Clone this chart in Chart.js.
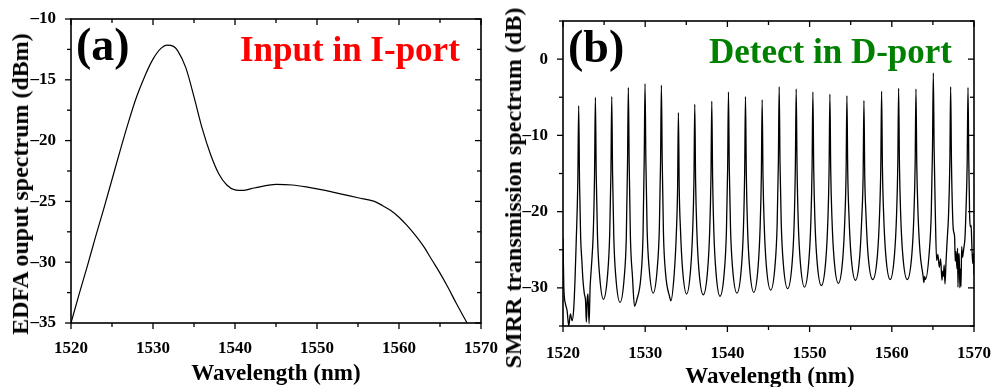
<!DOCTYPE html>
<html><head><meta charset="utf-8">
<script src="https://cdn.jsdelivr.net/npm/chart.js@4/dist/chart.umd.min.js"></script>
<style>
html,body{margin:0;padding:0;background:#fff;}
#wrap{position:relative;width:993px;height:387px;overflow:hidden;font-family:"Liberation Serif","Times New Roman",serif;font-weight:bold;color:#000;}
canvas{position:absolute;top:0;}
.t{position:absolute;white-space:nowrap;line-height:1;}
.r{position:absolute;white-space:nowrap;line-height:1;transform:translate(-50%,-50%) rotate(-90deg);}
.c{position:absolute;white-space:nowrap;line-height:1;transform:translateX(-50%);}
</style></head>
<body><div id="wrap">
<canvas id="ca" width="510" height="387" style="left:0"></canvas>
<canvas id="cb" width="503" height="387" style="left:500px"></canvas>
<div class="t" style="left:76px;top:21.5px;font-size:46px;">(a)</div>
<div class="t" style="left:240px;top:31.7px;font-size:35px;color:#ff0000;">Input in I-port</div>
<div class="t" style="left:568px;top:23.5px;font-size:46px;">(b)</div>
<div class="t" style="left:709px;top:34.2px;font-size:35px;color:#008000;">Detect in D-port</div>
<div class="c" style="left:276px;top:360.7px;font-size:23px;">Wavelength (nm)</div>
<div class="c" style="left:770px;top:364.2px;font-size:23px;">Wavelength (nm)</div>
<div class="r" style="left:20px;top:184px;font-size:24px;">EDFA ouput spectrum (dBm)</div>
<div class="r" style="left:513px;top:187.5px;font-size:24px;">SMRR transmission spectrum (dB)</div>
</div>
<script>
// ---- tick labels ----
const xTickLabels = [1520, 1530, 1540, 1550, 1560, 1570];
const xMinorTicks = [1525, 1535, 1545, 1555, 1565];
const aTickLabels = [-35, -30, -25, -20, -15, -10];
const aMinorTicks = [-32.5, -27.5, -22.5, -17.5, -12.5];
const bTickLabels = [-30, -20, -10, 0];
const bMinorTicks = [-35, -25, -15, -5, 5];

// ---- panel (a): EDFA output spectrum ----
const aWave = [1520, 1521, 1522, 1523, 1524, 1525, 1526, 1527, 1528, 1529, 1530, 1531, 1531.7, 1532.5, 1533, 1534, 1535, 1536, 1537, 1538, 1539, 1540, 1541, 1542, 1543, 1545, 1547, 1549, 1551, 1553, 1555, 1557, 1558, 1559, 1560, 1561, 1562, 1563, 1564, 1565, 1566, 1567, 1568.3];
const aPower = [-35, -32.6, -30.3, -27.9, -25.6, -23.2, -20.8, -18.5, -16.4, -14.7, -13.3, -12.4, -12.15, -12.25, -12.6, -14.0, -16.4, -19.0, -21.1, -22.7, -23.65, -24.05, -24.1, -23.95, -23.8, -23.6, -23.65, -23.85, -24.1, -24.4, -24.7, -25.0, -25.35, -25.75, -26.3, -27.0, -27.8, -28.7, -29.8, -30.9, -32.1, -33.4, -35];

// ---- panel (b): SMRR transmission spectrum ----
const bWave = [
1520.0,1520.1,1520.3,1520.5,1520.7,1520.9,1521.1,1521.3,1521.46,1521.6,1521.8,1521.91,1522.01,1522.15,1522.3,1522.43,1522.6,1522.75,1522.84,1522.95,1523.04,1523.17,1523.3,1523.44,1523.69,1523.84,1523.94,1524.04,1524.19,1524.44,1524.92,
1525.43,1525.68,1525.83,1525.93,1526.03,1526.18,1526.43,1526.94,
1527.45,1527.70,1527.85,1527.95,1528.05,1528.20,1528.45,1528.7,1528.97,
1529.48,1529.73,1529.88,1529.98,1530.08,1530.23,1530.48,1530.97,
1531.47,1531.72,1531.87,1531.97,1532.07,1532.22,1532.47,1533.0,1533.12,
1533.54,1533.79,1533.94,1534.04,1534.14,1534.29,1534.54,1535.04,
1535.53,1535.78,1535.93,1536.03,1536.13,1536.28,1536.53,1537.07,
1537.60,1537.85,1538.00,1538.10,1538.20,1538.35,1538.60,1539.1,
1539.63,1539.88,1540.03,1540.13,1540.23,1540.38,1540.63,1541.16,
1541.70,1541.95,1542.10,1542.20,1542.30,1542.45,1542.70,1543.21,
1543.73,1543.98,1544.13,1544.23,1544.33,1544.48,1544.73,1545.27,
1545.80,1546.05,1546.20,1546.30,1546.40,1546.55,1546.80,1547.33,
1547.87,1548.12,1548.27,1548.37,1548.47,1548.62,1548.87,1549.38,
1549.90,1550.15,1550.30,1550.40,1550.50,1550.65,1550.90,1551.43,
1551.97,1552.22,1552.37,1552.47,1552.57,1552.72,1552.97,1553.5,
1554.04,1554.29,1554.44,1554.54,1554.64,1554.79,1555.04,1555.58,
1556.11,1556.36,1556.51,1556.61,1556.71,1556.86,1557.11,1557.68,
1558.26,1558.51,1558.66,1558.76,1558.86,1559.01,1559.26,1559.8,
1560.33,1560.58,1560.73,1560.83,1560.93,1561.08,1561.33,1561.88,
1562.44,1562.69,1562.84,1562.94,1563.04,1563.19,1563.44,1563.8,1563.9,1564.0,1564.1,
1564.55,1564.8,1564.95,1565.05,1565.15,1565.3,1565.45,1565.6,1565.78,1565.94,1566.1,1566.2,1566.27,1566.37,1566.47,1566.6,1566.75,1566.9,
1567.06,1567.16,1567.26,1567.4,1567.5,1567.64,1567.72,1567.8,1567.93,1568.0,1568.05,1568.12,1568.2,1568.28,1568.34,1568.42,1568.5,1568.6,1568.7,1568.8,1568.9,
1569.02,1569.17,1569.27,1569.37,1569.47,1569.55,1569.65,1569.72,1569.84,1569.92,1570.0];
const bTrans = [
-23.5,-29.9,-32.1,-33.0,-35.0,-33.4,-34.3,-32.8,-29.0,-24.2,-16.1,-6.1,-16.1,-23.5,-26.5,-29.0,-30.8,-31.8,-34.5,-31.5,-30.8,-34.7,-29.9,-27.5,-22.5,-15.0,-5.0,-15.0,-23.0,-28.2,-31.5,
-28.2,-23.0,-14.9,-4.9,-14.9,-23.4,-28.6,-31.9,
-28.6,-23.4,-13.7,-3.7,-13.7,-23.3,-28.5,-32.4,-31.6,
-28.5,-23.3,-13.2,-3.2,-13.2,-22.2,-27.4,-30.7,
-27.4,-22.2,-13.4,-3.4,-13.4,-22.8,-28.0,-31.3,-31.7,
-28.0,-22.8,-17.0,-7.0,-17.0,-22.3,-27.5,-30.8,
-27.5,-22.3,-15.9,-5.9,-15.9,-22.4,-27.6,-30.9,
-27.6,-22.4,-15.5,-5.5,-15.5,-22.6,-27.8,-31.1,
-27.8,-22.6,-14.3,-4.3,-14.3,-22.2,-27.4,-30.7,
-27.4,-22.2,-14.9,-4.9,-14.9,-22.1,-27.3,-30.6,
-27.3,-22.1,-15.3,-5.3,-15.3,-21.8,-27.0,-30.3,
-27.0,-21.8,-13.6,-3.6,-13.6,-21.6,-26.8,-30.1,
-26.8,-21.6,-13.9,-3.9,-13.9,-21.4,-26.6,-29.9,
-26.6,-21.4,-14.3,-4.3,-14.3,-21.2,-26.4,-29.7,
-26.4,-21.2,-14.6,-4.6,-14.6,-20.9,-26.1,-29.4,
-26.1,-20.9,-14.8,-4.8,-14.8,-20.5,-25.7,-29.0,
-25.7,-20.5,-15.4,-5.4,-15.4,-20.4,-25.6,-28.9,
-25.6,-20.4,-14.2,-4.2,-14.2,-20.4,-25.6,-28.9,
-25.6,-20.4,-13.8,-3.8,-13.8,-20.4,-25.6,-28.9,
-25.6,-20.4,-13.9,-3.9,-13.9,-20.2,-25.4,-28.4,-29.3,-28.5,-28.9,
-25.4,-20.2,-11.8,-1.8,-11.8,-20.5,-26.4,-25.6,-27.3,-26.2,-29.0,-27.8,-28.5,-27.0,-29.5,-26.5,-23.5,-20.5,
-13.6,-3.6,-13.6,-20.5,-22.5,-23.3,-26.5,-25.2,-27.5,-24.8,-29.9,-26.0,-25.5,-30.0,-27.5,-29.8,-24.6,-26.0,-25.3,-24.5,-23.5,
-20.0,-13.7,-3.7,-13.7,-20.5,-22.0,-21.8,-23.8,-26.8,-25.5,-28.2];

const FONT = '"Liberation Serif", "Times New Roman", serif';
const minusFmt = v => (v < 0 ? '\u2013' + String(-v) : String(v));
const plainFmt = v => String(v);

const frameTicks = {
  id: 'frameTicks',
  afterDraw(chart, args, o) {
    const ctx = chart.ctx, a = chart.chartArea, sx = chart.scales.x, sy = chart.scales.y;
    ctx.save();
    ctx.strokeStyle = '#000';
    const seg = (x1, y1, x2, y2) => { ctx.beginPath(); ctx.moveTo(x1, y1); ctx.lineTo(x2, y2); ctx.stroke(); };
    ctx.lineWidth = 1.3;
    const maj = 6, mnr = 4;
    o.xMajor.forEach(v => { const p = sx.getPixelForValue(v); seg(p, a.bottom, p, a.bottom + maj); seg(p, a.top, p, a.top + maj); });
    o.xMinor.forEach(v => { const p = sx.getPixelForValue(v); seg(p, a.bottom, p, a.bottom + mnr); seg(p, a.top, p, a.top + mnr); });
    o.yMajor.forEach(v => { const p = sy.getPixelForValue(v); seg(a.left - maj, p, a.left, p); seg(a.right - maj, p, a.right, p); });
    o.yMinor.forEach(v => { const p = sy.getPixelForValue(v); seg(a.left - mnr, p, a.left, p); seg(a.right - mnr, p, a.right, p); });
    ctx.lineWidth = 1.6;
    ctx.strokeRect(a.left, a.top, a.right - a.left, a.bottom - a.top);
    ctx.restore();
  }
};

function xAxis(h, pad) {
  return {
    type: 'linear', min: 1520, max: 1570,
    afterBuildTicks: s => { s.ticks = xTickLabels.map(v => ({ value: v })); },
    afterFit: s => { s.height = h; },
    grid: { display: false }, border: { display: false },
    ticks: { padding: pad, color: '#000', autoSkip: false, maxRotation: 0, callback: plainFmt, font: { family: FONT, size: 17, weight: 'bold' } }
  };
}
function yAxis(w, pad, min, max, labels) {
  return {
    type: 'linear', min: min, max: max,
    afterBuildTicks: s => { s.ticks = labels.map(v => ({ value: v })); },
    afterFit: s => { s.width = w; },
    grid: { display: false }, border: { display: false },
    ticks: { padding: pad, color: '#000', autoSkip: false, crossAlign: 'near', callback: minusFmt, font: { family: FONT, size: 17, weight: 'bold' } }
  };
}

new Chart(document.getElementById('ca'), {
  type: 'line',
  data: { datasets: [{ data: aWave.map((x, i) => ({ x: x, y: aPower[i] })), borderColor: '#000', borderWidth: 1.2, pointRadius: 0, cubicInterpolationMode: 'monotone', fill: false }] },
  options: {
    responsive: false, animation: false, events: [],
    layout: { padding: { top: 19, right: 29, left: 0, bottom: 0 } },
    plugins: { legend: { display: false }, tooltip: { enabled: false },
      frameTicks: { xMajor: xTickLabels, xMinor: xMinorTicks, yMajor: aTickLabels, yMinor: aMinorTicks } },
    scales: { x: xAxis(64, 7), y: yAxis(71, 7, -35, -10, aTickLabels) }
  },
  plugins: [frameTicks]
});

new Chart(document.getElementById('cb'), {
  type: 'line',
  data: { datasets: [{ data: bWave.map((x, i) => ({ x: x, y: bTrans[i] })), borderColor: '#000', borderWidth: 1.3, pointRadius: 0, cubicInterpolationMode: 'monotone', fill: false }] },
  options: {
    responsive: false, animation: false, events: [],
    layout: { padding: { top: 21, right: 29, left: 0, bottom: 0 } },
    plugins: { legend: { display: false }, tooltip: { enabled: false },
      frameTicks: { xMajor: xTickLabels, xMinor: xMinorTicks, yMajor: bTickLabels, yMinor: bMinorTicks } },
    scales: { x: xAxis(61, 9), y: yAxis(63, 7, -35, 5, bTickLabels) }
  },
  plugins: [frameTicks]
});
</script>
</body></html>
